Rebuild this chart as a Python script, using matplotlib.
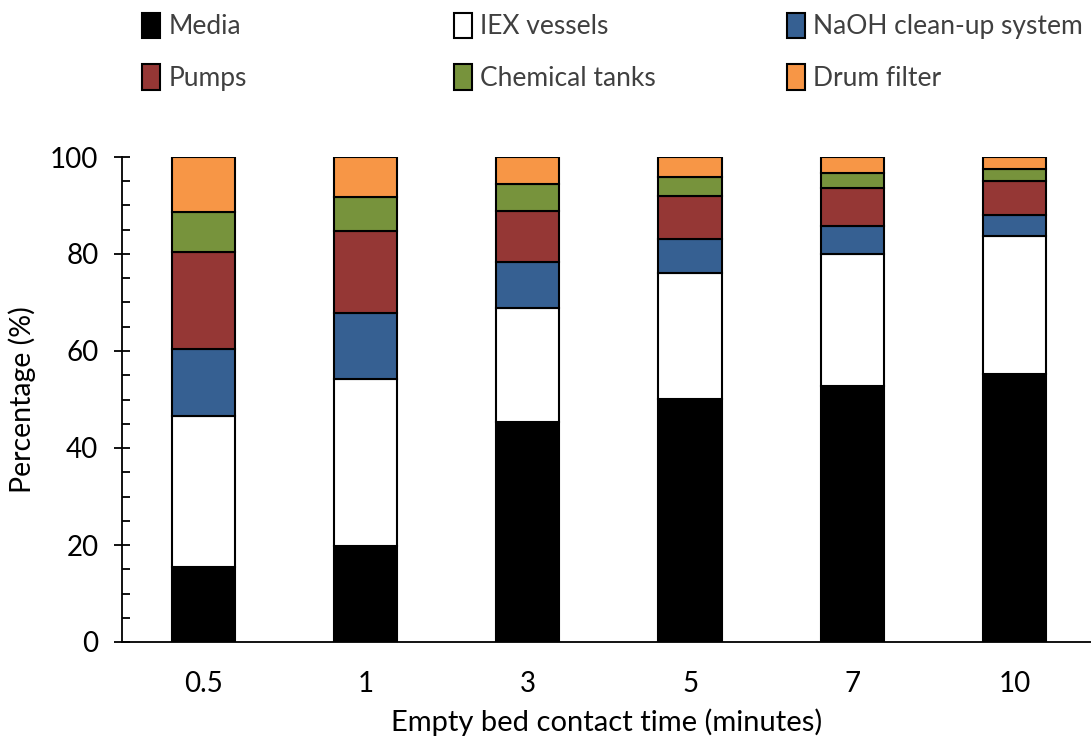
import numpy as np
import matplotlib
matplotlib.use("Agg")
import matplotlib.pyplot as plt
from matplotlib.patches import Patch
from matplotlib.ticker import MultipleLocator

plt.rcParams['font.family'] = ['Lato', 'DejaVu Sans']

# empty bed contact time categories
ebct = ['0.5', '1', '3', '5', '7', '10']

# percentage contribution of each component
media = [15.4, 19.8, 45.4, 50.2, 52.8, 55.3]
iex_vessels = [31.2, 34.4, 23.5, 25.9, 27.1, 28.5]
naoh_system = [13.9, 13.7, 9.5, 6.9, 5.8, 4.2]
pumps = [20.0, 16.9, 10.5, 8.9, 8.0, 7.1]
chem_tanks = [8.1, 7.0, 5.5, 4.0, 3.1, 2.5]
drum_filter = [11.4, 8.2, 5.6, 4.1, 3.2, 2.4]

series = [media, iex_vessels, naoh_system, pumps, chem_tanks, drum_filter]
names = ['Media', 'IEX vessels', 'NaOH clean-up system', 'Pumps',
         'Chemical tanks', 'Drum filter']
colors = ['#000000', '#ffffff', '#366092', '#953735', '#77933c', '#f79646']

fig = plt.figure(figsize=(10.91, 7.40), dpi=100)
ax = fig.add_axes([122 / 1091, 98 / 740, 969 / 1091, 485 / 740])

x = np.arange(len(ebct))
bottom = np.zeros(len(ebct))
for vals, c in zip(series, colors):
    ax.bar(x, vals, width=0.39, bottom=bottom, color=c, edgecolor='black',
           linewidth=1.5, zorder=3)
    bottom += np.array(vals)

ax.set_xlim(-0.5, 5.47)
ax.set_ylim(0, 100)
ax.yaxis.set_major_locator(MultipleLocator(20))
ax.yaxis.set_minor_locator(MultipleLocator(5))
ax.set_xticks(x)
ax.set_xticklabels(ebct)
ax.tick_params(axis='y', which='major', direction='inout', length=12, width=1.3,
               labelsize=20, pad=11)
ax.tick_params(axis='y', which='minor', direction='in', length=6, width=1.3)
ax.tick_params(axis='x', length=0, labelsize=20, pad=21)
for s in ['top', 'right']:
    ax.spines[s].set_visible(False)
for s in ['left', 'bottom']:
    ax.spines[s].set_linewidth(1.3)

ax.set_ylabel('Percentage (%)', fontsize=20.5, labelpad=10)
ax.set_xlabel('Empty bed contact time (minutes)', fontsize=21, labelpad=8)

# legend laid out as three fixed-width columns, like the original
legend_x = [118, 430, 763]
for col in range(3):
    handles = [Patch(facecolor=colors[i], edgecolor='black', linewidth=1.5)
               for i in (col, col + 3)]
    labels = [names[col], names[col + 3]]
    fig.legend(handles, labels, loc='upper left',
               bbox_to_anchor=(legend_x[col] / 1091, 1.0 + 11 / 740),
               frameon=False, fontsize=19, handlelength=0.7, handleheight=1.1,
               handletextpad=0.3, labelspacing=0.95, labelcolor='#404040')

fig.savefig('out.png', dpi=100)
